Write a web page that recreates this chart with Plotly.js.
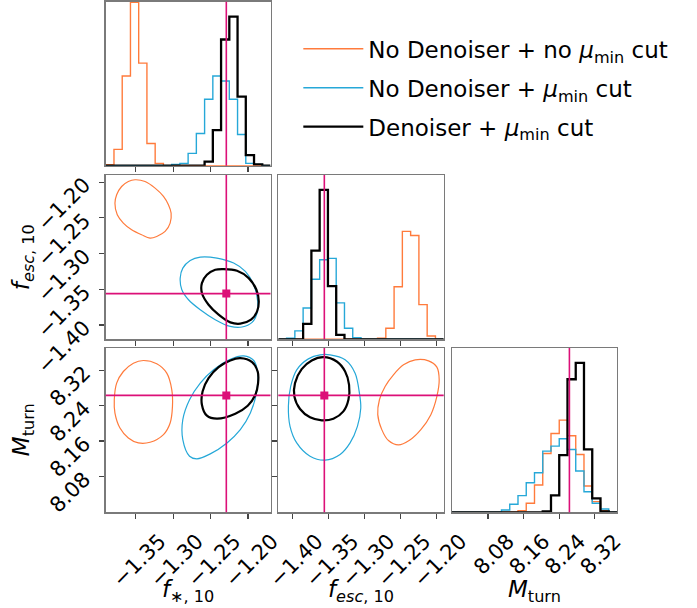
<!DOCTYPE html>
<html>
<head>
<meta charset="utf-8">
<script src="https://cdn.plot.ly/plotly-3.0.1.min.js"></script>
<style>
  html, body { margin: 0; padding: 0; background: #ffffff; }
  #chart { width: 697px; height: 608px; }
</style>
</head>
<body>
<div id="chart"></div>
<script>
// ---------------- DATA ----------------
const seriesNames = [
  'No Denoiser + no <i>μ</i><sub>min</sub> cut',
  'No Denoiser + <i>μ</i><sub>min</sub> cut',
  'Denoiser + <i>μ</i><sub>min</sub> cut'
];
const seriesColors = ['#ff7b3c', '#26a8d8', '#000000'];

// axis ranges (parameter space shown in each column / row)
const fstarRange = [-1.390, -1.170];
const fescRange  = [-1.420, -1.190];
const mturnRange = [7.999, 8.370];

// tick values and labels
const fstarTicks = [-1.35, -1.30, -1.25, -1.20];
const fstarTickText = ['−1.35', '−1.30', '−1.25', '−1.20'];
const fescTicks = [-1.40, -1.35, -1.30, -1.25, -1.20];
const fescTickText = ['−1.40', '−1.35', '−1.30', '−1.25', '−1.20'];
const mturnTicks = [8.08, 8.16, 8.24, 8.32];
const mturnTickText = ['8.08', '8.16', '8.24', '8.32'];

// truth values
const truthFstar = -1.229;
const truthFesc  = -1.356;
const truthMturn = 8.263;
const truthColor = '#dc1078';

// 1D histograms, 20 bins across each axis range (estimated counts)
const fstarOrange = [3, 49, 270, 492, 309, 67, 7, 0, 0, 0, 0, 0, 0, 0, 0, 0, 0, 0, 0, 0];
const fstarBlue   = [0, 0, 0, 0, 0, 0, 0, 0, 4, 7, 37, 97, 200, 270, 255, 200, 94, 7, 4, 0];
const fstarBlack  = [0, 0, 0, 0, 0, 0, 0, 0, 0, 0, 0, 0, 12, 107, 380, 449, 208, 32, 4, 0];

const fescOrange = [0, 0, 0, 0, 0, 0, 0, 0, 0, 0, 0, 0, 3, 33, 156, 320, 308, 103, 10, 0];
const fescBlue   = [0, 3, 25, 93, 178, 236, 240, 108, 33, 5, 0, 0, 0, 0, 0, 0, 0, 0, 0, 0];
const fescBlack  = [0, 0, 0, 46, 263, 443, 158, 13, 0, 0, 0, 0, 0, 0, 0, 0, 0, 0, 0, 0];

const mturnOrange = [0, 0, 0, 0, 0, 0, 0, 0, 5, 27, 82, 177, 237, 277, 230, 174, 79, 32, 5, 0];
const mturnBlue   = [0, 0, 0, 0, 0, 0, 7, 24, 50, 89, 119, 184, 199, 221, 189, 124, 62, 27, 10, 0];
const mturnBlack  = [0, 0, 0, 0, 0, 0, 0, 0, 0, 0, 0, 3, 51, 172, 400, 449, 189, 42, 3, 0];

// 2D credible contours (traced outlines)
// f*,10 (x) vs f_esc,10 (y)
const fsFeOrangeX = [-1.3509, -1.3375, -1.3241, -1.3129, -1.3063, -1.3027, -1.3040, -1.3107, -1.3219, -1.3308, -1.3420, -1.3554, -1.3665, -1.3746, -1.3777, -1.3754, -1.3688, -1.3598];
const fsFeOrangeY = [-1.1967, -1.1991, -1.2084, -1.2200, -1.2317, -1.2434, -1.2573, -1.2690, -1.2760, -1.2783, -1.2737, -1.2667, -1.2573, -1.2457, -1.2294, -1.2177, -1.2061, -1.1991];
const fsFeBlueX = [-1.2638, -1.2415, -1.2192, -1.2036, -1.1924, -1.1871, -1.1879, -1.1946, -1.2080, -1.2237, -1.2438, -1.2638, -1.2795, -1.2884, -1.2906, -1.2871, -1.2772];
const fsFeBlueY = [-1.3049, -1.3063, -1.3133, -1.3249, -1.3436, -1.3669, -1.3832, -1.3963, -1.4028, -1.4019, -1.3925, -1.3786, -1.3646, -1.3506, -1.3343, -1.3203, -1.3096];
const fsFeBlackX = [-1.2326, -1.2147, -1.1991, -1.1888, -1.1857, -1.1879, -1.1960, -1.2103, -1.2237, -1.2393, -1.2527, -1.2616, -1.2616, -1.2549, -1.2438];
const fsFeBlackY = [-1.3217, -1.3240, -1.3343, -1.3506, -1.3669, -1.3809, -1.3925, -1.3981, -1.3963, -1.3855, -1.3716, -1.3552, -1.3413, -1.3296, -1.3226];

// f*,10 (x) vs M_turn (y)
const fsMtOrangeX = [-1.3397, -1.3219, -1.3085, -1.3018, -1.3009, -1.3040, -1.3129, -1.3308, -1.3464, -1.3598, -1.3710, -1.3777, -1.3786, -1.3754, -1.3665, -1.3531];
const fsMtOrangeY = [8.3418, 8.3343, 8.3132, 8.2757, 8.2382, 8.2007, 8.1745, 8.1572, 8.1557, 8.1670, 8.1895, 8.2232, 8.2532, 8.2907, 8.3170, 8.3358];
const fsMtBlueX = [-1.2058, -1.1924, -1.1871, -1.1888, -1.1969, -1.2103, -1.2281, -1.2504, -1.2683, -1.2781, -1.2871, -1.2871, -1.2781, -1.2638, -1.2460, -1.2237];
const fsMtBlueY = [8.3523, 8.3418, 8.3132, 8.2682, 8.2232, 8.1857, 8.1557, 8.1310, 8.1197, 8.1257, 8.1632, 8.2082, 8.2532, 8.2907, 8.3208, 8.3448];
const fsMtBlackX = [-1.2103, -1.1946, -1.1871, -1.1866, -1.1902, -1.2004, -1.2170, -1.2415, -1.2549, -1.2616, -1.2607, -1.2527, -1.2393, -1.2237];
const fsMtBlackY = [8.3470, 8.3380, 8.3170, 8.2907, 8.2645, 8.2397, 8.2217, 8.2105, 8.2172, 8.2420, 8.2720, 8.3020, 8.3268, 8.3418];

// f_esc,10 (x) vs M_turn (y)
const feMtOrangeX = [-1.2297, -1.2111, -1.1995, -1.1963, -1.1995, -1.2079, -1.2218, -1.2376, -1.2529, -1.2668, -1.2761, -1.2817, -1.2794, -1.2715, -1.2599, -1.2459];
const feMtOrangeY = [8.3433, 8.3410, 8.3268, 8.2982, 8.2607, 8.2195, 8.1857, 8.1617, 8.1512, 8.1610, 8.1857, 8.2195, 8.2532, 8.2832, 8.3095, 8.3320];
const feMtBlueX = [-1.3480, -1.3271, -1.3132, -1.3072, -1.3053, -1.3100, -1.3202, -1.3341, -1.3550, -1.3759, -1.3944, -1.4037, -1.4060, -1.4028, -1.3944, -1.3782, -1.3619];
const feMtBlueY = [8.3545, 8.3433, 8.3132, 8.2682, 8.2345, 8.1932, 8.1557, 8.1295, 8.1167, 8.1257, 8.1557, 8.1932, 8.2382, 8.2832, 8.3208, 8.3455, 8.3545];
const feMtBlackX = [-1.3573, -1.3387, -1.3271, -1.3216, -1.3225, -1.3295, -1.3434, -1.3596, -1.3759, -1.3898, -1.3977, -1.3968, -1.3875, -1.3735];
const feMtBlackY = [8.3493, 8.3395, 8.3170, 8.2870, 8.2532, 8.2270, 8.2105, 8.2067, 8.2135, 8.2322, 8.2607, 8.2907, 8.3223, 8.3418];

// ---------------- BUILD ----------------
const FONT = 'DejaVu Sans, Liberation Sans, sans-serif';
const lineW = [1.4, 1.4, 2.3];

function stepTrace(range, counts, idx, xa, ya, showlegend) {
  const n = counts.length;
  const w = (range[1] - range[0]) / n;
  const xs = [range[0]], ys = [0];
  for (let i = 0; i < n; i++) { xs.push(range[0] + i * w); ys.push(counts[i]); }
  xs.push(range[1]); ys.push(counts[n - 1]);
  xs.push(range[1]); ys.push(0);
  return {
    type: 'scatter', mode: 'lines', x: xs, y: ys, xaxis: xa, yaxis: ya,
    line: { color: seriesColors[idx], width: lineW[idx], shape: 'hv' },
    name: seriesNames[idx], legendgroup: 'g' + idx, showlegend: !!showlegend,
    hoverinfo: 'skip'
  };
}
function contourTrace(xs, ys, idx, xa, ya) {
  return {
    type: 'scatter', mode: 'lines', x: xs.concat([xs[0]]), y: ys.concat([ys[0]]),
    xaxis: xa, yaxis: ya,
    line: { color: seriesColors[idx], width: idx === 2 ? 2.2 : 1.2, shape: 'spline', smoothing: 0.9 },
    name: seriesNames[idx], legendgroup: 'g' + idx, showlegend: false, hoverinfo: 'skip'
  };
}
function truthPoint(x, y, xa, ya) {
  return { type: 'scatter', mode: 'markers', x: [x], y: [y], xaxis: xa, yaxis: ya,
    marker: { symbol: 'square', size: 8, color: truthColor }, showlegend: false, hoverinfo: 'skip' };
}

const traces = [
  stepTrace(fstarRange, fstarOrange, 0, 'x', 'y', true),
  stepTrace(fstarRange, fstarBlue, 1, 'x', 'y', true),
  stepTrace(fstarRange, fstarBlack, 2, 'x', 'y', true),
  contourTrace(fsFeOrangeX, fsFeOrangeY, 0, 'x2', 'y2'),
  contourTrace(fsFeBlueX, fsFeBlueY, 1, 'x2', 'y2'),
  contourTrace(fsFeBlackX, fsFeBlackY, 2, 'x2', 'y2'),
  stepTrace(fescRange, fescOrange, 0, 'x3', 'y3'),
  stepTrace(fescRange, fescBlue, 1, 'x3', 'y3'),
  stepTrace(fescRange, fescBlack, 2, 'x3', 'y3'),
  contourTrace(fsMtOrangeX, fsMtOrangeY, 0, 'x4', 'y4'),
  contourTrace(fsMtBlueX, fsMtBlueY, 1, 'x4', 'y4'),
  contourTrace(fsMtBlackX, fsMtBlackY, 2, 'x4', 'y4'),
  contourTrace(feMtOrangeX, feMtOrangeY, 0, 'x5', 'y5'),
  contourTrace(feMtBlueX, feMtBlueY, 1, 'x5', 'y5'),
  contourTrace(feMtBlackX, feMtBlackY, 2, 'x5', 'y5'),
  stepTrace(mturnRange, mturnOrange, 0, 'x6', 'y6'),
  stepTrace(mturnRange, mturnBlue, 1, 'x6', 'y6'),
  stepTrace(mturnRange, mturnBlack, 2, 'x6', 'y6'),
  truthPoint(truthFstar, truthFesc, 'x2', 'y2'),
  truthPoint(truthFstar, truthMturn, 'x4', 'y4'),
  truthPoint(truthFesc, truthMturn, 'x5', 'y5')
];

const colDom = [[0.1517, 0.3881], [0.3993, 0.6366], [0.6485, 0.8852]];
const rowDom = [[0.7275, 0.9972], [0.4419, 0.7122], [0.1574, 0.4276]];

function axis(dom, range, tickvals, ticktext, showLabels, anchor, shift, standoff) {
  const a = {
    domain: dom, range: range, anchor: anchor,
    showline: true, mirror: true, linecolor: '#7a7a7a', linewidth: 1.3,
    showgrid: false, zeroline: false, fixedrange: true,
    ticks: tickvals ? 'outside' : '', ticklen: 5, tickwidth: 1.1, tickcolor: '#444',
    tickfont: { family: FONT, size: 21, color: '#000' },
    showticklabels: !!showLabels, tickangle: -45
  };
  if (shift) a.ticklabelshift = shift;
  if (standoff) a.ticklabelstandoff = standoff;
  if (tickvals) { a.tickmode = 'array'; a.tickvals = tickvals; a.ticktext = ticktext; }
  else { a.showticklabels = false; }
  return a;
}
const histMax = arr => 1.1 * Math.max.apply(null, arr);

const layout = {
  width: 697, height: 608,
  margin: { l: 0, r: 0, t: 0, b: 0 },
  paper_bgcolor: '#ffffff', plot_bgcolor: '#ffffff',
  showlegend: true,
  legend: {
    x: 0.428, y: 0.955, xanchor: 'left', yanchor: 'top',
    font: { family: FONT, size: 23, color: '#000' },
    bgcolor: 'rgba(0,0,0,0)', borderwidth: 0,
    traceorder: 'grouped', tracegroupgap: 6, itemwidth: 60
  },
  xaxis:  axis(colDom[0], fstarRange, fstarTicks, fstarTickText, false, 'y'),
  yaxis:  axis(rowDom[0], [0, histMax(fstarBlack)], null, null, false, 'x'),
  xaxis2: axis(colDom[0], fstarRange, fstarTicks, fstarTickText, false, 'y2'),
  yaxis2: axis(rowDom[1], fescRange, fescTicks, fescTickText, true, 'x2', 0, 11),
  xaxis3: axis(colDom[1], fescRange, fescTicks, fescTickText, false, 'y3'),
  yaxis3: axis(rowDom[1], [0, histMax(fescBlack)], null, null, false, 'x3'),
  xaxis4: axis(colDom[0], fstarRange, fstarTicks, fstarTickText, true, 'y4', 24, 2),
  yaxis4: axis(rowDom[2], mturnRange, mturnTicks, mturnTickText, true, 'x4', 0, 11),
  xaxis5: axis(colDom[1], fescRange, fescTicks, fescTickText, true, 'y5', 24, 2),
  yaxis5: axis(rowDom[2], mturnRange, mturnTicks, mturnTickText, false, 'x5'),
  xaxis6: axis(colDom[2], mturnRange, mturnTicks, mturnTickText, true, 'y6', 20, 2),
  yaxis6: axis(rowDom[2], [0, histMax(mturnBlack)], null, null, false, 'x6'),
  shapes: [],
  annotations: []
};

function vline(x, xa, ya) {
  return { type: 'line', xref: xa, yref: ya + ' domain', x0: x, x1: x, y0: 0, y1: 1,
    line: { color: truthColor, width: 1.6 }, layer: 'above' };
}
function hline(y, xa, ya) {
  return { type: 'line', xref: xa + ' domain', yref: ya, x0: 0, x1: 1, y0: y, y1: y,
    line: { color: truthColor, width: 1.6 }, layer: 'above' };
}
layout.shapes.push(
  vline(truthFstar, 'x', 'y'),
  vline(truthFstar, 'x2', 'y2'), hline(truthFesc, 'x2', 'y2'),
  vline(truthFesc, 'x3', 'y3'),
  vline(truthFstar, 'x4', 'y4'), hline(truthMturn, 'x4', 'y4'),
  vline(truthFesc, 'x5', 'y5'), hline(truthMturn, 'x5', 'y5'),
  vline(truthMturn, 'x6', 'y6')
);

const titleFont = { family: FONT, size: 23, color: '#000' };
function xTitle(text, dom) {
  return { text: text, xref: 'paper', yref: 'paper', x: (dom[0] + dom[1]) / 2, y: 1 - 591 / 608,
    xanchor: 'center', yanchor: 'middle', showarrow: false, font: titleFont };
}
function yTitle(text, dom) {
  return { text: text, xref: 'paper', yref: 'paper', x: 23 / 697, y: (dom[0] + dom[1]) / 2,
    xanchor: 'center', yanchor: 'middle', showarrow: false, textangle: -90, font: titleFont };
}
layout.annotations.push(
  xTitle('<i>f</i><sub>∗, 10</sub>', colDom[0]),
  xTitle('<i>f</i><sub><i>esc</i>, 10</sub>', colDom[1]),
  xTitle('<i>M</i><sub>turn</sub>', colDom[2]),
  yTitle('<i>f</i><sub><i>esc</i>, 10</sub>', rowDom[1]),
  yTitle('<i>M</i><sub>turn</sub>', rowDom[2])
);

Plotly.newPlot('chart', traces, layout, { staticPlot: true, displayModeBar: false });
</script>
</body>
</html>
